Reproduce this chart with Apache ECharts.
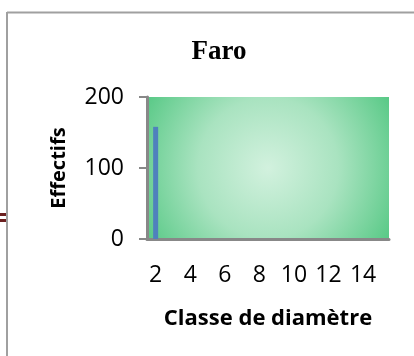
<!DOCTYPE html>
<html>
<head>
<meta charset="utf-8">
<script src="https://cdn.jsdelivr.net/npm/echarts@6/dist/echarts.min.js"></script>
<style>html,body{margin:0;padding:0;background:#fff;}#c{width:414px;height:356px;}</style>
</head>
<body>
<div id="c"></div>
<script>
var categories = ['2','3','4','5','6','7','8','9','10','11','12','13','14','15'];
var effectifs = [158,0,0,0,0,0,0,0,0,0,0,0,0,0];
var yTicks = [0,100,200];

var chart = echarts.init(document.getElementById('c'), null, {renderer:'canvas'});
chart.setOption({
  animation:false,
  backgroundColor:'#ffffff',
  title:{
    text:'Faro', left:214, top:34, textAlign:'center',
    textStyle:{fontFamily:'Liberation Serif', fontWeight:'bold', fontSize:27, color:'#000'}
  },
  grid:{
    left:147, right:25, top:97, bottom:117, show:true, borderWidth:0,
    backgroundColor:{type:'radial', x:0.5, y:0.5, r:1.1,
      colorStops:[{offset:0,color:'#d2f1de'},{offset:0.45,color:'#a9e3c0'},{offset:1,color:'#46c379'}]}
  },
  xAxis:{
    type:'category', data:categories,
    name:'Classe de diamètre', nameLocation:'middle', nameGap:69,
    nameTextStyle:{fontFamily:'Open Sans', fontWeight:'bold', fontSize:22, color:'#000'},
    axisLine:{show:true, lineStyle:{color:'#888888', width:3}},
    axisTick:{show:false},
    axisLabel:{interval:1, fontFamily:'Open Sans', fontSize:23, color:'#000', margin:25},
    splitLine:{show:false}
  },
  yAxis:{
    type:'value', min:yTicks[0], max:yTicks[yTicks.length-1], interval:100,
    name:'Effectifs', nameLocation:'middle', nameGap:78,
    nameTextStyle:{fontFamily:'Open Sans', fontWeight:'bold', fontSize:20, color:'#000'},
    axisLine:{show:true, lineStyle:{color:'#888888', width:3}},
    axisTick:{show:true, length:8, lineStyle:{color:'#888888', width:2}},
    axisLabel:{fontFamily:'Open Sans', fontSize:23, color:'#000', margin:23},
    splitLine:{show:false}
  },
  series:[{
    type:'bar', data:effectifs, barWidth:5, barGap:'0%',
    itemStyle:{color:'#4f81bd'}
  }],
  graphic:[
    {type:'line', shape:{x1:7, y1:12.5, x2:414, y2:12.5}, style:{stroke:'#a0a0a0', lineWidth:2}},
    {type:'line', shape:{x1:7, y1:12, x2:7, y2:356}, style:{stroke:'#a0a0a0', lineWidth:2}},
    {type:'rect', shape:{x:0, y:213, width:6, height:3}, style:{fill:'#6b1f1f'}},
    {type:'rect', shape:{x:0, y:219, width:6, height:3}, style:{fill:'#6b1f1f'}}
  ]
});
</script>
</body>
</html>
